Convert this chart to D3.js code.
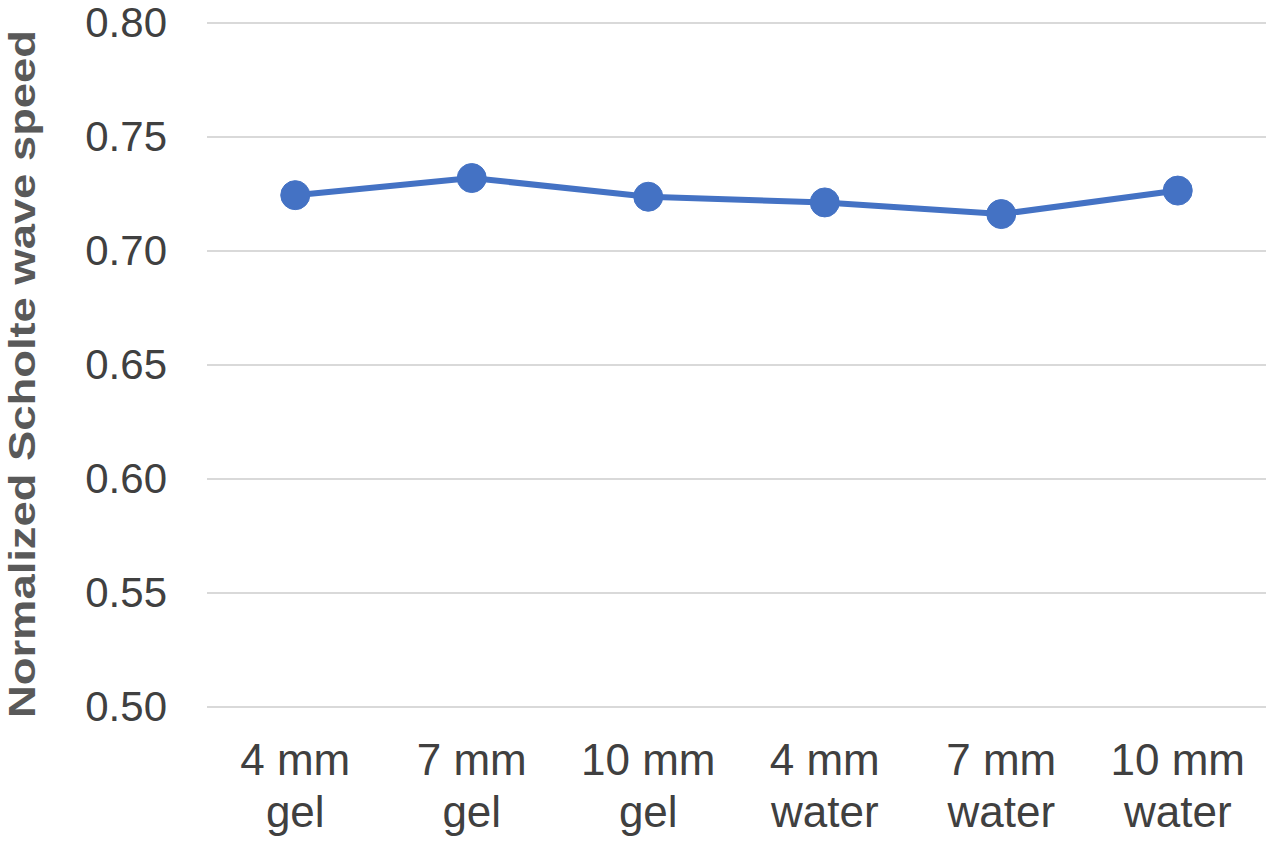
<!DOCTYPE html>
<html>
<head>
<meta charset="utf-8">
<script src="https://cdn.jsdelivr.net/npm/d3@7"></script>
<style>
  body { margin: 0; background: #fff; }
  svg { display: block; font-family: "Liberation Sans", Arial, sans-serif; }
</style>
</head>
<body>
<div id="chart"></div>
<script>
// categories (two text lines each) and values
const categories = ["4 mm|gel", "7 mm|gel", "10 mm|gel", "4 mm|water", "7 mm|water", "10 mm|water"];
const speeds = [0.7245, 0.7320, 0.7238, 0.7213, 0.7162, 0.7265];
const yTicks = [0.50, 0.55, 0.60, 0.65, 0.70, 0.75, 0.80];

const W = 1272, H = 842;
const margin = {top: 23, right: 6, bottom: 135, left: 207};
const width = W - margin.left - margin.right;
const height = H - margin.top - margin.bottom;

const svg = d3.select("#chart")
    .append("svg")
    .attr("width", W)
    .attr("height", H)
    .append("g")
    .attr("transform", "translate(" + margin.left + "," + margin.top + ")");

const x = d3.scaleBand()
    .domain(categories)
    .range([0, width]);

const y = d3.scaleLinear()
    .domain([0.50, 0.80])
    .range([height, 0]);

// gridlines
svg.append("g")
    .selectAll("line")
    .data(yTicks)
    .enter()
    .append("line")
    .attr("x1", 0)
    .attr("x2", width)
    .attr("y1", d => y(d))
    .attr("y2", d => y(d))
    .style("stroke", "#d9d9d9")
    .style("stroke-width", 2);

// y axis labels
const yAxis = d3.axisLeft(y)
    .tickValues(yTicks)
    .tickFormat(d3.format(".2f"))
    .tickSize(0)
    .tickPadding(40);

const yg = svg.append("g").call(yAxis);
yg.select(".domain").remove();
yg.selectAll("text")
    .style("font-size", "42px")
    .style("fill", "#404040")
    .style("font-family", "'Liberation Sans', Arial, sans-serif");

// x axis labels (two lines)
const xAxis = d3.axisBottom(x).tickSize(0).tickFormat("");
const xg = svg.append("g")
    .attr("transform", "translate(0," + height + ")")
    .call(xAxis);
xg.select(".domain").remove();
xg.selectAll(".tick").each(function(d) {
    const parts = d.split("|");
    const t = d3.select(this).append("text")
        .attr("text-anchor", "middle")
        .style("font-size", "44px")
        .style("fill", "#404040")
        .style("font-family", "'Liberation Sans', Arial, sans-serif");
    parts.forEach((p, i) => {
        t.append("tspan")
            .attr("x", 0)
            .attr("y", 68 + i * 52)
            .text(p);
    });
});

// y axis title
svg.append("text")
    .attr("transform", "translate(" + (35 - margin.left) + "," + (height / 2 + 9) + ") rotate(-90)")
    .attr("text-anchor", "middle")
    .attr("textLength", 688)
    .attr("lengthAdjust", "spacingAndGlyphs")
    .style("font-size", "36px")
    .style("font-weight", "bold")
    .style("fill", "#595959")
    .text("Normalized Scholte wave speed");

// line + markers
const data = categories.map((c, i) => ({cat: c, v: speeds[i]}));
const line = d3.line()
    .x(d => x(d.cat) + x.bandwidth() / 2)
    .y(d => y(d.v));

svg.append("path")
    .datum(data)
    .attr("d", line)
    .style("fill", "none")
    .style("stroke", "#4472C4")
    .style("stroke-width", 6);

svg.selectAll(".dot")
    .data(data)
    .enter()
    .append("circle")
    .attr("class", "dot")
    .attr("cx", d => x(d.cat) + x.bandwidth() / 2)
    .attr("cy", d => y(d.v))
    .attr("r", 14.5)
    .style("fill", "#4472C4")
    .style("stroke", "#4472C4")
    .style("stroke-width", 1);
</script>
</body>
</html>
